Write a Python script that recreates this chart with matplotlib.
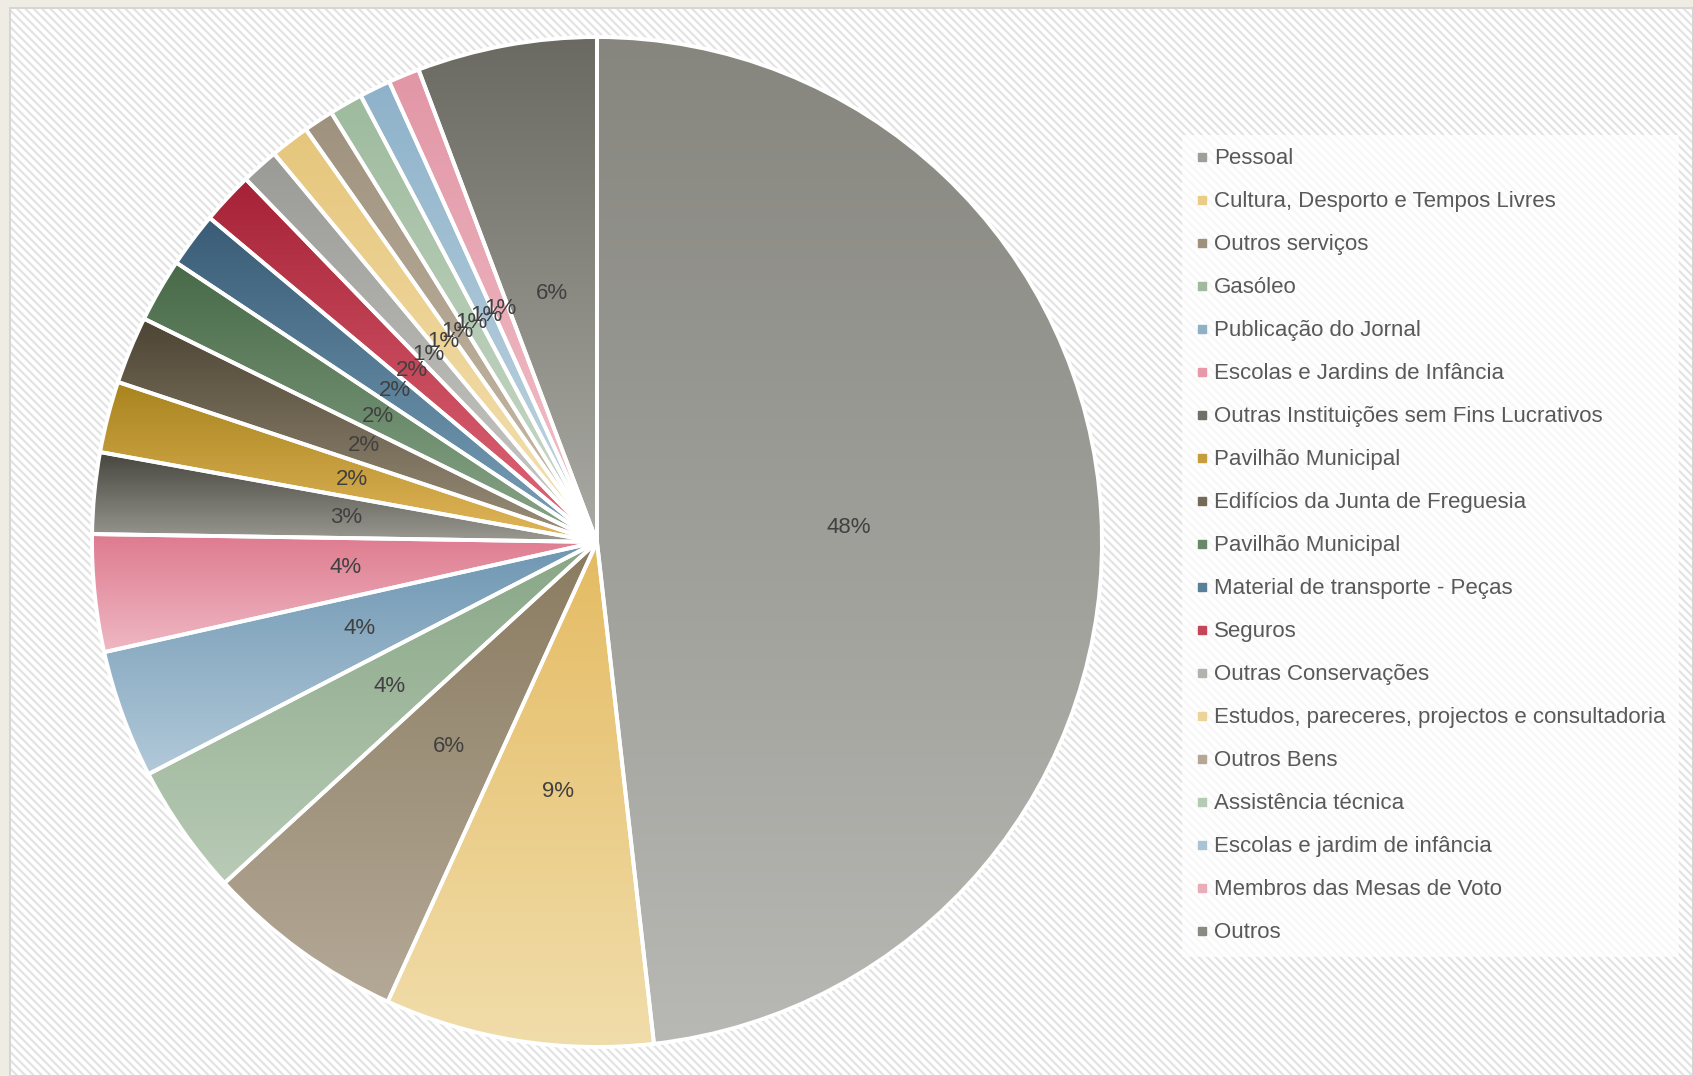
import numpy as np
import matplotlib
matplotlib.use("Agg")
import matplotlib.pyplot as plt
from matplotlib.lines import Line2D
from matplotlib.colors import to_rgb

plt.rcParams['font.family'] = ['Liberation Sans', 'DejaVu Sans']
plt.rcParams['hatch.linewidth'] = 1.6

categories = [
    "Pessoal", "Cultura, Desporto e Tempos Livres", "Outros serviços", "Gasóleo",
    "Publicação do Jornal", "Escolas e Jardins de Infância",
    "Outras Instituições sem Fins Lucrativos", "Pavilhão Municipal",
    "Edifícios da Junta de Freguesia", "Pavilhão Municipal",
    "Material de transporte - Peças", "Seguros", "Outras Conservações",
    "Estudos, pareceres, projectos e consultadoria", "Outros Bens",
    "Assistência técnica", "Escolas e jardim de infância",
    "Membros das Mesas de Voto", "Outros",
]
shares = [48.2, 8.6, 6.4, 4.2, 4.1, 3.75, 2.6, 2.28, 2.16, 2.04, 1.76, 1.67,
          1.2, 1.26, 0.96, 1.07, 1.0, 1.0, 5.75]
top_colors = ["#86867f", "#e4bb62", "#8a7b60", "#88a686", "#6e96b2", "#de7a8e",
              "#46463e", "#a8841e", "#4c4434", "#486a48", "#3a5c76", "#a62236",
              "#9a9a96", "#e6c67c", "#9e927e", "#9ebb9e", "#8eb2ca", "#e296a6",
              "#6a6a62"]
bottom_colors = ["#b8b8b4", "#f1ddab", "#b4a997", "#b9cbb6", "#b2c9d9", "#efb8c4",
                 "#9a9a92", "#e2b65a", "#9c907a", "#8aa68a", "#7aa2ba", "#e26a7a",
                 "#cacac6", "#f4e1b2", "#cabeaa", "#cadaca", "#c2d6e2", "#f2c2ca",
                 "#aaaaa4"]

W, H = 1693, 1076
fig = plt.figure(figsize=(W / 100, H / 100), dpi=100, facecolor="#efece4")

# background panel with diagonal hatch
bg = fig.add_axes([10 / W, 0, 1 - 10 / W, 1 - 8 / H])
bg.set_xlim(0, 1); bg.set_ylim(0, 1)
bg.set_xticks([]); bg.set_yticks([])
bg.set_facecolor("white")
bg.add_patch(plt.Rectangle((0, 0), 1, 1, transform=bg.transAxes, facecolor="white",
                           edgecolor="#e3e3e3", hatch="\\\\\\\\", linewidth=0))
for s in bg.spines.values():
    s.set_color("#d6d6d6"); s.set_linewidth(1.5)

# pie axes
cx, cy, r = 597, 542, 507
ax = fig.add_axes([(cx - r) / W, (H - cy - r) / H, 2 * r / W, 2 * r / H])
ax.patch.set_alpha(0)
wedges, texts, autotexts = ax.pie(
    shares, startangle=90, counterclock=False, radius=1,
    autopct=lambda p: f"{p:.0f}%", pctdistance=0.5,
    textprops=dict(color="#404040", fontsize=16),
    wedgeprops=dict(linewidth=0))

for i, w in enumerate(wedges):
    t1, t2 = np.deg2rad(w.theta1), np.deg2rad(w.theta2)
    th = np.linspace(t1, t2, 200)
    xs = np.concatenate([[0], np.cos(th)])
    ys = np.concatenate([[0], np.sin(th)])
    c0 = np.array(to_rgb(top_colors[i])); c1 = np.array(to_rgb(bottom_colors[i]))
    t = np.linspace(0, 1, 256)[:, None]
    grad = (c0 * (1 - t) + c1 * t)[:, None, :]
    im = ax.imshow(grad, extent=[xs.min(), xs.max(), ys.min(), ys.max()],
                   origin="upper", aspect="auto", interpolation="bilinear", zorder=1)
    im.set_clip_path(w)
    w.set_facecolor("none"); w.set_edgecolor("white"); w.set_linewidth(2.8)
    w.set_zorder(2)
for a in autotexts:
    a.set_zorder(3)
ax.set_aspect("auto")
ax.set_xlim(-1.004, 1.004); ax.set_ylim(-1.004, 1.004)
ax.axis("off")

# legend
handles = []
for i in range(len(categories)):
    mid = 0.5 * (np.array(to_rgb(top_colors[i])) + np.array(to_rgb(bottom_colors[i])))
    handles.append(Line2D([], [], marker="s", linestyle="none", markersize=6,
                          markerfacecolor=mid, markeredgecolor=mid))
leg = fig.legend(handles, categories, loc="upper left",
                 bbox_to_anchor=(1182 / W, 1 - 135 / H), borderaxespad=0,
                 frameon=True, facecolor="white", framealpha=0.75, edgecolor="none",
                 fontsize=16, labelcolor="#595959", handlelength=0.6,
                 handletextpad=0.25, labelspacing=0.99, borderpad=0.6)
leg.get_frame().set_boxstyle("square", pad=0)

fig.savefig("out.png", dpi=100, facecolor=fig.get_facecolor())
